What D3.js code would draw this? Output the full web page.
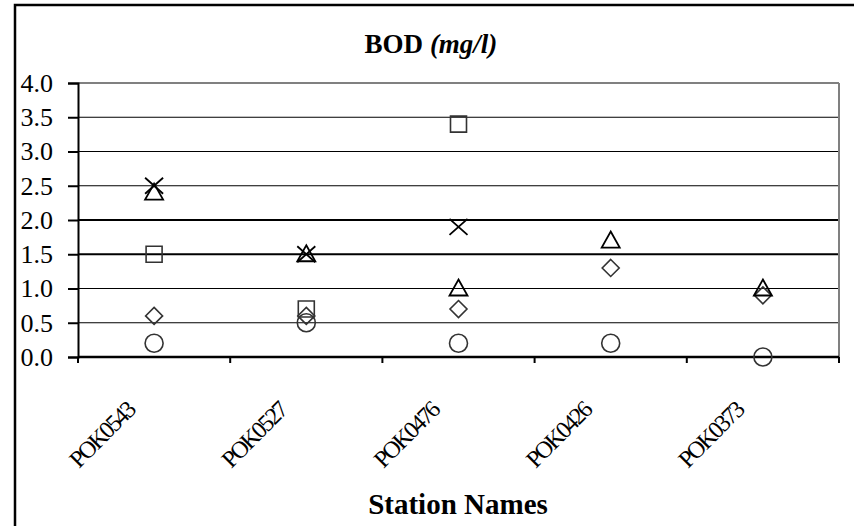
<!DOCTYPE html>
<html><head><meta charset="utf-8">
<script src="https://cdn.jsdelivr.net/npm/d3@7"></script>
<style>body{margin:0;background:#fff}svg{display:block}text{font-family:"Liberation Serif","Times New Roman",serif}</style>
</head><body><svg id="c" width="854" height="526"></svg>
<script>
const stations = ["POK0543","POK0527","POK0476","POK0426","POK0373"];
const yTicks = [0,0.5,1.0,1.5,2.0,2.5,3.0,3.5,4.0];
const circleVals = [0.2,0.5,0.2,0.2,0.0];
const diamondVals = [0.6,0.6,0.7,1.3,0.9];
const squareVals = [1.5,0.7,3.4,null,null];
const triangleVals = [2.4,1.5,1.0,1.7,1.0];
const crossVals = [2.5,1.5,1.9,null,null];

const svg = d3.select("#c");
const L=78, R=839, T=83, B=357;
const x = d3.scaleBand().domain(stations).range([L,R]);
const y = d3.scaleLinear().domain([0,4]).range([B,T]);

// outer frame
svg.append("path").attr("d","M15,860 V5 H860").attr("fill","none").attr("stroke","#000").attr("stroke-width",2.5);

// gridlines
svg.append("g").selectAll("line").data(yTicks.filter(d=>d>0)).join("line")
  .attr("x1",L).attr("x2",R).attr("y1",d=>y(d)).attr("y2",d=>y(d))
  .attr("stroke",d=>d===4?"#808080":"#000").attr("stroke-width",d=>d===4?2:(d===1.5||d===2?2.2:1.2));
// right border
svg.append("line").attr("x1",R).attr("x2",R).attr("y1",T).attr("y2",B).attr("stroke","#808080").attr("stroke-width",2);

// y axis
const ya = svg.append("g").attr("transform",`translate(${L},0)`)
  .call(d3.axisLeft(y).tickValues(yTicks).tickFormat(d3.format(".1f")).tickSize(10).tickPadding(15));
ya.attr("font-size",null).attr("font-family",null);
ya.select(".domain").attr("stroke","#000").attr("stroke-width",2);
ya.selectAll(".tick line").attr("stroke","#000").attr("stroke-width",2);
ya.selectAll("text").style("font-size","26px").attr("fill","#000");

// x axis
const xa = svg.append("g").attr("transform",`translate(0,${B})`);
xa.append("line").attr("x1",L).attr("x2",R).attr("stroke","#000").attr("stroke-width",2.5);
const bounds = stations.map(s=>x(s)).concat([x(stations[stations.length-1])+x.bandwidth()]);
xa.selectAll("line.tk").data(bounds).join("line").attr("class","tk")
  .attr("x1",d=>d).attr("x2",d=>d).attr("y1",0).attr("y2",6).attr("stroke","#000").attr("stroke-width",2);
xa.selectAll("text").data(stations).join("text")
  .attr("transform",d=>`translate(${x(d)+x.bandwidth()/2-18},${55}) rotate(-45)`)
  .attr("text-anchor","end").style("font-size","24px").attr("letter-spacing",-2.2).attr("fill","#000").text(d=>d);

// title
const t = svg.append("text").attr("x",431).attr("y",53).attr("text-anchor","middle").style("font-size","27px").attr("font-weight","bold");
t.append("tspan").text("BOD ");
t.append("tspan").attr("font-style","italic").text("(mg/l)");
svg.append("text").attr("x",458).attr("y",514).attr("text-anchor","middle").style("font-size","29px").attr("font-weight","bold").text("Station Names");

const cx = d=>x(d)+x.bandwidth()/2;
const g = svg.append("g").attr("fill","none");
function pts(vals){return stations.map((s,i)=>({s,v:vals[i]})).filter(d=>d.v!==null);}

g.selectAll("circle").data(pts(circleVals)).join("circle")
  .attr("cx",d=>cx(d.s)).attr("cy",d=>y(d.v)).attr("r",9).attr("stroke","#333").attr("stroke-width",1.6);
g.selectAll("path.dia").data(pts(diamondVals)).join("path").attr("class","dia")
  .attr("d",d=>{const X=cx(d.s),Y=y(d.v),r=8.5;return `M${X},${Y-r}L${X+r},${Y}L${X},${Y+r}L${X-r},${Y}Z`;})
  .attr("stroke","#333").attr("stroke-width",1.6);
g.selectAll("path.sq").data(pts(squareVals)).join("path").attr("class","sq")
  .attr("d",d=>{const X=cx(d.s),Y=y(d.v),r=8;return `M${X-r},${Y-r}H${X+r}V${Y+r}H${X-r}Z`;})
  .attr("stroke","#333").attr("stroke-width",1.6);
g.selectAll("path.tri").data(pts(triangleVals)).join("path").attr("class","tri")
  .attr("d",d=>{const X=cx(d.s),Y=y(d.v);return `M${X},${Y-9}L${X+9},${Y+7}L${X-9},${Y+7}Z`;})
  .attr("stroke","#000").attr("stroke-width",1.8);
g.selectAll("path.cr").data(pts(crossVals)).join("path").attr("class","cr")
  .attr("d",d=>{const X=cx(d.s),Y=y(d.v),r=9;return `M${X-r},${Y-r+1}L${X+r},${Y+r-1}M${X+r},${Y-r+1}L${X-r},${Y+r-1}`;})
  .attr("stroke","#000").attr("stroke-width",1.8);
</script></body></html>
